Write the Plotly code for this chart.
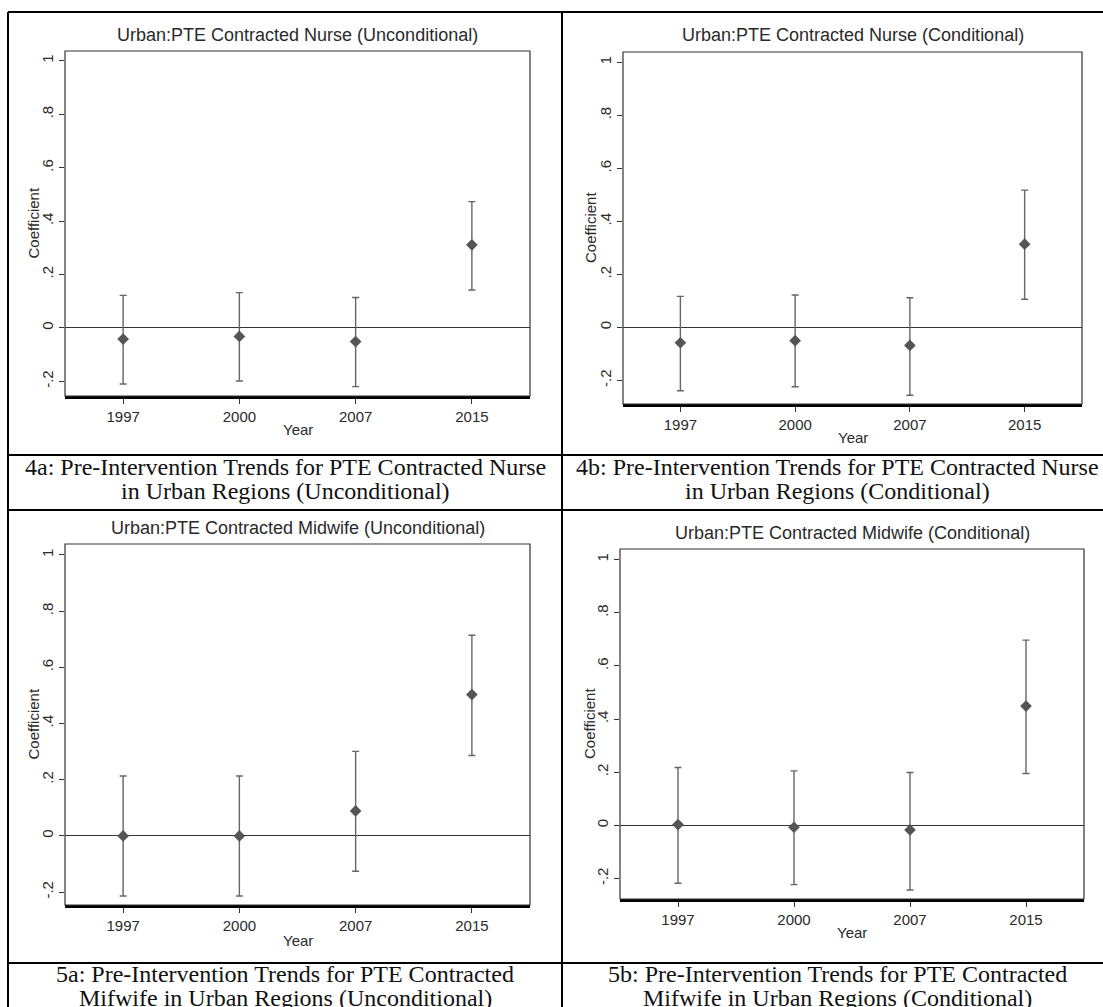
import plotly.graph_objects as go

# ---------------- data ----------------
years = ["1997", "2000", "2007", "2015"]

nurse_uncond_coef = [-0.042, -0.032, -0.051, 0.311]
nurse_uncond_lo = [-0.210, -0.199, -0.220, 0.142]
nurse_uncond_hi = [0.122, 0.132, 0.114, 0.473]

nurse_cond_coef = [-0.058, -0.050, -0.068, 0.314]
nurse_cond_lo = [-0.239, -0.224, -0.256, 0.106]
nurse_cond_hi = [0.117, 0.122, 0.112, 0.518]

midwife_uncond_coef = [0.000, 0.000, 0.089, 0.503]
midwife_uncond_lo = [-0.214, -0.214, -0.126, 0.286]
midwife_uncond_hi = [0.213, 0.213, 0.301, 0.714]

midwife_cond_coef = [0.003, -0.007, -0.017, 0.449]
midwife_cond_lo = [-0.218, -0.223, -0.243, 0.195]
midwife_cond_hi = [0.218, 0.205, 0.199, 0.697]

y_tickvals = [-0.2, 0, 0.2, 0.4, 0.6, 0.8, 1]
y_ticktext = ["-.2", "0", ".2", ".4", ".6", ".8", "1"]

chart_titles = [
    "Urban:PTE Contracted Nurse (Unconditional)",
    "Urban:PTE Contracted Nurse (Conditional)",
    "Urban:PTE Contracted Midwife (Unconditional)",
    "Urban:PTE Contracted Midwife (Conditional)",
]
captions = [
    ["4a: Pre-Intervention Trends for PTE Contracted Nurse", "in Urban Regions (Unconditional)"],
    ["4b: Pre-Intervention Trends for PTE Contracted Nurse", "in Urban Regions (Conditional)"],
    ["5a: Pre-Intervention Trends for PTE Contracted", "Mifwife in Urban Regions (Unconditional)"],
    ["5b: Pre-Intervention Trends for PTE Contracted", "Mifwife in Urban Regions (Conditional)"],
]
x_title = "Year"
y_title = "Coefficient"

series = [
    (nurse_uncond_coef, nurse_uncond_lo, nurse_uncond_hi),
    (nurse_cond_coef, nurse_cond_lo, nurse_cond_hi),
    (midwife_uncond_coef, midwife_uncond_lo, midwife_uncond_hi),
    (midwife_cond_coef, midwife_cond_lo, midwife_cond_hi),
]
y_ranges = [[-0.255, 1.037], [-0.289, 1.039], [-0.246, 1.039], [-0.277, 1.040]]

# ---------------- layout geometry (pixels) ----------------
W, H = 1103, 1007
# plot boxes: left, right, top, bottom
boxes = [(65, 530, 51, 396), (623, 1082, 52, 404), (65, 530, 544, 905), (620, 1084, 549, 899)]
title_y = [35, 35, 528, 533]
ylab_x = [33, 591, 33, 589]
xlab_y = [429, 437, 940, 932]
caption_x = [285, 837, 285, 837]
caption_y = [(467, 491), (467, 491), (974, 998), (974, 998)]


def px(x):
    return x / W


def py(y):
    return 1 - y / H


fig = go.Figure()
layout = dict(
    width=W, height=H, margin=dict(l=0, r=0, t=0, b=0),
    paper_bgcolor="white", plot_bgcolor="white", showlegend=False,
    font=dict(family="Liberation Sans, Arial, sans-serif", color="#222", size=14),
)
shapes = []
annotations = []

TEXT = "#2a2a2a"
for i, ((coef, lo, hi), box) in enumerate(zip(series, boxes)):
    n = "" if i == 0 else str(i + 1)
    l, r, t, b = box
    err_plus = [h - c for h, c in zip(hi, coef)]
    err_minus = [c - lo_ for c, lo_ in zip(coef, lo)]
    fig.add_trace(go.Scatter(
        x=years, y=coef, mode="markers", xaxis="x" + n, yaxis="y" + n,
        marker=dict(symbol="diamond", size=9, color="#555555"),
        error_y=dict(type="data", symmetric=False, array=err_plus, arrayminus=err_minus,
                     color="#666666", thickness=1.4, width=3.5),
        hoverinfo="skip",
    ))
    layout["xaxis" + n] = dict(
        domain=[px(l), px(r)], anchor="y" + n, type="category",
        range=[-0.5, 3.5], showgrid=False, zeroline=False,
        showline=True, linecolor="black", linewidth=2.5, mirror=False,
        ticks="outside", ticklen=5, tickcolor="#333", tickwidth=1,
        tickfont=dict(size=15, color=TEXT), ticklabelstandoff=0,
    )
    layout["yaxis" + n] = dict(
        domain=[py(b), py(t)], anchor="x" + n, range=y_ranges[i],
        showgrid=False, showline=False,
        zeroline=True, zerolinecolor="#333333", zerolinewidth=1.3,
        tickvals=y_tickvals, ticktext=y_ticktext, tickangle=-90,
        ticks="outside", ticklen=5, tickcolor="#333", tickwidth=1,
        tickfont=dict(size=15, color=TEXT),
    )
    # plot-region frame
    shapes.append(dict(type="rect", xref="x" + n + " domain", yref="y" + n + " domain",
                       x0=0, x1=1, y0=0, y1=1, line=dict(color="#333333", width=1.2),
                       layer="above"))
    # chart title
    annotations.append(dict(text=chart_titles[i], x=px((l + r) / 2), y=py(title_y[i]),
                            xref="paper", yref="paper", showarrow=False,
                            xanchor="center", yanchor="middle",
                            font=dict(size=18, color=TEXT)))
    # axis titles
    annotations.append(dict(text=x_title, x=px((l + r) / 2), y=py(xlab_y[i]),
                            xref="paper", yref="paper", showarrow=False,
                            xanchor="center", yanchor="middle",
                            font=dict(size=15, color=TEXT)))
    annotations.append(dict(text=y_title, x=px(ylab_x[i]), y=py((t + b) / 2),
                            xref="paper", yref="paper", showarrow=False, textangle=-90,
                            xanchor="center", yanchor="middle",
                            font=dict(size=15, color=TEXT)))
    # captions
    for line_text, cy in zip(captions[i], caption_y[i]):
        annotations.append(dict(text=line_text, x=px(caption_x[i]), y=py(cy),
                                xref="paper", yref="paper", showarrow=False,
                                xanchor="center", yanchor="middle",
                                font=dict(family="Liberation Serif, Times New Roman, serif",
                                          size=24, color="#111")))

# table rules
rule = dict(color="black", width=2)
table_lines = [
    (8, 12, 1103, 12), (8, 12, 8, 1007), (562, 12, 562, 1007),
    (8, 455, 1103, 455), (8, 510, 1103, 510), (8, 963, 1103, 963),
]
for x0, y0, x1, y1 in table_lines:
    shapes.append(dict(type="line", xref="paper", yref="paper",
                       x0=px(x0), y0=py(y0), x1=px(x1), y1=py(y1), line=rule))

layout["shapes"] = shapes
layout["annotations"] = annotations
fig.update_layout(**layout)

fig.write_html("out.html", config={"displayModeBar": False},
               post_script="document.body.style.margin='0';document.body.style.overflow='hidden';")
